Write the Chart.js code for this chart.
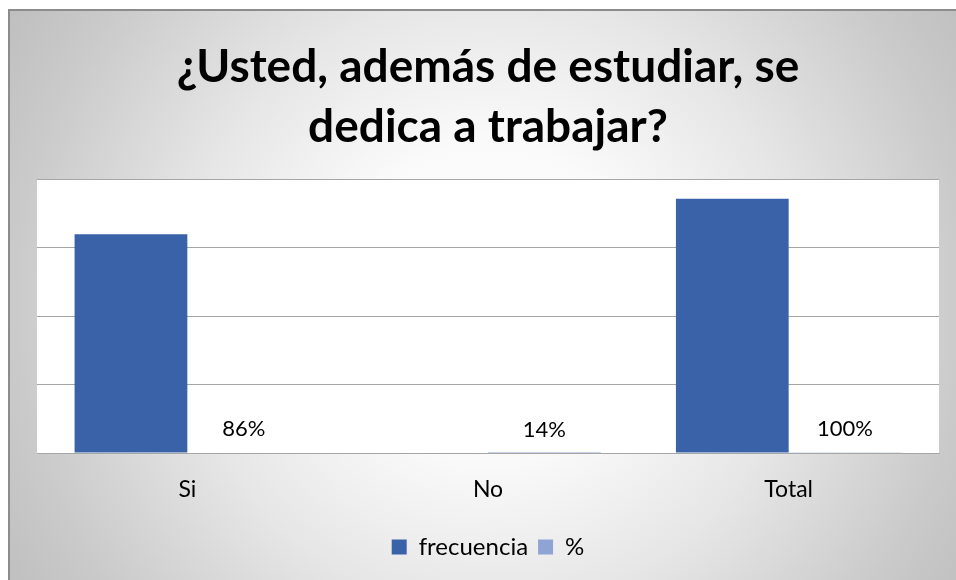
<!DOCTYPE html>
<html>
<head>
<meta charset="utf-8">
<script src="https://cdn.jsdelivr.net/npm/chart.js@4.4.1/dist/chart.umd.min.js"></script>
<style>
  html, body { margin: 0; padding: 0; width: 956px; height: 580px; overflow: hidden; background: #ffffff; }
  #bg {
    position: absolute; left: 8px; top: 9px; width: 960px; height: 580px;
    border-left: 2px solid #8c8c8c; border-top: 2px solid #8c8c8c;
    background: radial-gradient(circle farthest-corner at 50% 50%, #ffffff 0%, #fafafa 28%, #e6e6e6 55%, #cacaca 85%, #bfbfbf 100%);
  }
  #wrap { position: absolute; left: 0; top: 0; width: 956px; height: 580px; }
</style>
</head>
<body>
<div id="bg"></div>
<div id="wrap"><canvas id="c" width="956" height="580"></canvas></div>
<script>
const categories = ["Si", "No", "Total"];
const frecuencia = [320, 0, 372];
const porcentaje = [0.86, 0.14, 1.00];
const porcentajeLabels = ["86%", "14%", "100%"];
const titleLines = ["¿Usted, además de estudiar, se", "dedica a trabajar?"];

const plotBg = {
  id: 'plotBg',
  beforeDraw(chart) {
    const { ctx, chartArea: a } = chart;
    ctx.save();
    ctx.fillStyle = '#ffffff';
    ctx.fillRect(a.left, a.top, a.right - a.left, a.bottom - a.top);
    ctx.restore();
  }
};

const pctLabels = {
  id: 'pctLabels',
  afterDatasetsDraw(chart) {
    const { ctx } = chart;
    const meta = chart.getDatasetMeta(1);
    ctx.save();
    ctx.font = '22px Lato';
    ctx.fillStyle = '#000000';
    ctx.textAlign = 'center';
    ctx.textBaseline = 'alphabetic';
    meta.data.forEach((el, i) => {
      ctx.fillText(porcentajeLabels[i], el.x, el.y - 16);
    });
    ctx.restore();
  }
};

new Chart(document.getElementById('c'), {
  type: 'bar',
  data: {
    labels: categories,
    datasets: [
      { label: 'frecuencia', data: frecuencia, backgroundColor: '#3A62A9', borderWidth: 0 },
      { label: '%', data: porcentaje, backgroundColor: '#8FA3D5', borderWidth: 0 }
    ]
  },
  options: {
    responsive: false,
    animation: false,
    devicePixelRatio: 1,
    categoryPercentage: 0.75,
    barPercentage: 1.0,
    layout: { padding: { left: 37, right: 17, top: 0, bottom: 11 } },
    plugins: {
      title: {
        display: true,
        text: titleLines,
        color: '#000000',
        font: { family: 'Lato', size: 46, weight: 'bold', lineHeight: 1.3 },
        padding: { top: 37, bottom: 23 }
      },
      legend: {
        position: 'bottom',
        labels: {
          color: '#000000',
          font: { family: 'Lato', size: 24 },
          boxWidth: 15, boxHeight: 15,
          padding: 10
        }
      },
      tooltip: { enabled: false }
    },
    scales: {
      x: {
        grid: { display: false, drawTicks: false },
        border: { display: true, color: '#a6a6a6', width: 1 },
        ticks: { color: '#000000', font: { family: 'Lato', size: 23 }, padding: 23 },
        afterFit(scale) { scale.height = 72; }
      },
      y: {
        min: 0, max: 400,
        ticks: { display: false, stepSize: 100 },
        grid: { color: '#a6a6a6', lineWidth: 1, drawTicks: false },
        border: { display: false }
      }
    }
  },
  plugins: [plotBg, pctLabels]
});
</script>
</body>
</html>
